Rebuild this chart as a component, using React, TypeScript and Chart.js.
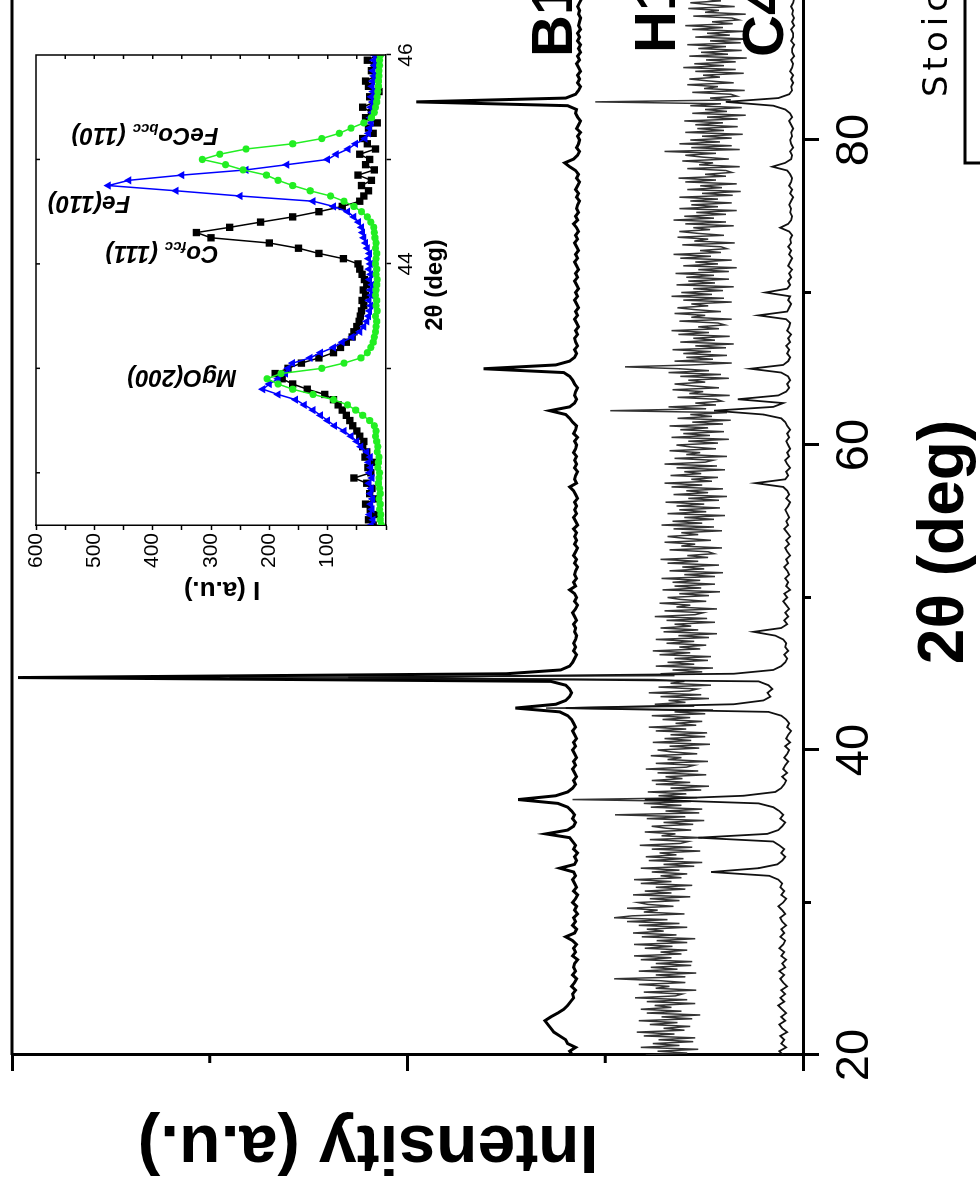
import React, { useEffect, useRef } from "react";
import { Chart, registerables } from "chart.js";
Chart.register(...registerables);

const FONT = "'Liberation Sans', Arial, sans-serif";

// ---------- main pattern ----------
const TWO_THETA_START = 20;
const TWO_THETA_STEP = 0.25; // B1, C4
const H1_STEP = 0.125; // H1 (noisier, sampled more densely)

const B1 = [
  233, 236, 230, 238, 240, 246, 252, 255, 258, 261, 255, 248, 242, 238, 235, 232,
  233, 230, 234, 231, 229, 233, 230, 232, 231, 228, 233, 230, 232, 229, 233, 240,
  231, 229, 233, 230, 232, 228, 231, 229, 233, 230, 228, 232, 229, 231, 233, 230,
  232, 246, 231, 229, 231, 228, 232, 230, 233, 236, 260, 238, 232, 230, 233, 231,
  234, 238, 248, 288, 250, 238, 233, 230, 232, 229, 231, 233, 230, 232, 229, 231,
  233, 230, 232, 229, 231, 233, 230, 232, 234, 238, 246, 291, 250, 240, 236, 234,
  236, 240, 255, 794, 300, 245, 236, 233, 231, 229, 232, 230, 232, 230, 229, 231,
  230, 232, 229, 231, 233, 230, 228, 231, 229, 231, 236, 230, 232, 229, 231, 230,
  228, 231, 229, 232, 230, 228, 231, 229, 231, 229, 232, 228, 230, 232, 229, 231,
  229, 231, 228, 230, 232, 236, 229, 231, 230, 228, 231, 229, 231, 229, 232, 230,
  229, 231, 228, 232, 230, 229, 233, 236, 240, 256, 236, 231, 229, 231, 230, 228,
  231, 233, 236, 242, 323, 250, 236, 231, 229, 231, 228, 230, 231, 228, 230, 227,
  229, 231, 228, 230, 227, 229, 231, 228, 230, 227, 229, 231, 228, 230, 227, 229,
  231, 228, 230, 227, 229, 231, 228, 230, 227, 229, 232, 228, 230, 227, 229, 228,
  226, 229, 227, 230, 228, 226, 229, 227, 230, 236, 241, 232, 228, 226, 229, 227,
  226, 228, 225, 229, 227, 225, 228, 230, 229, 238, 391, 240, 230, 227, 225, 228,
  226, 228, 225, 227, 229, 226, 228, 225, 227, 225, 228, 226, 228, 225, 227, 226,
  225, 227, 226, 228, 226, 224, 227, 225, 226,
];

const H1 = [
  159, 117, 147, 106, 164, 125, 152, 111, 146, 109, 161, 130, 168, 120, 141, 114,
  155, 127, 166, 112, 143, 104, 158, 123, 164, 133, 150, 109, 158, 117, 170, 129,
  122, 161, 108, 149, 135, 166, 119, 145, 191, 119, 149, 108, 166, 127, 154, 113,
  149, 112, 164, 133, 171, 123, 144, 117, 160, 132, 171, 117, 148, 109, 163, 128,
  172, 141, 158, 117, 166, 125, 178, 137, 191, 173, 120, 161, 147, 178, 131, 157,
  167, 125, 155, 114, 172, 133, 160, 119, 149, 112, 164, 133, 171, 123, 144, 117,
  153, 125, 164, 110, 141, 102, 156, 121, 159, 128, 145, 104, 153, 112, 165, 124,
  116, 155, 102, 143, 129, 160, 113, 139, 153, 111, 141, 100, 158, 119, 190, 105,
  139, 102, 154, 123, 161, 113, 233, 107, 146, 118, 157, 103, 134, 95, 149, 114,
  153, 122, 139, 98, 147, 106, 159, 118, 110, 149, 96, 137, 123, 154, 107, 133,
  147, 105, 135, 94, 152, 113, 140, 99, 134, 97, 149, 118, 156, 108, 129, 102,
  142, 114, 153, 99, 130, 91, 260, 110, 150, 119, 136, 95, 144, 103, 156, 115,
  107, 146, 93, 134, 120, 151, 580, 130, 144, 102, 132, 91, 149, 110, 137, 96,
  130, 93, 145, 114, 152, 104, 125, 98, 138, 110, 149, 95, 126, 87, 141, 106,
  144, 113, 130, 89, 138, 97, 150, 109, 101, 140, 87, 128, 114, 145, 98, 124,
  137, 95, 125, 84, 142, 103, 130, 89, 132, 104, 143, 89, 120, 81, 135, 100,
  122, 85, 137, 106, 144, 96, 117, 90, 96, 135, 82, 123, 109, 140, 93, 119,
  137, 106, 123, 82, 131, 90, 143, 102, 132, 90, 120, 79, 137, 98, 125, 84,
  128, 100, 139, 85, 116, 77, 131, 96, 118, 81, 133, 102, 140, 92, 113, 86,
  134, 103, 120, 79, 128, 87, 140, 99, 91, 130, 77, 118, 104, 135, 88, 114,
  128, 86, 116, 75, 133, 94, 121, 80, 124, 96, 135, 81, 112, 73, 127, 92,
  114, 77, 195, 98, 136, 88, 109, 82, 88, 127, 74, 115, 101, 132, 85, 111,
  130, 99, 116, 75, 124, 83, 136, 95, 125, 180, 113, 72, 130, 91, 118, 77,
  121, 93, 132, 78, 109, 70, 124, 89, 111, 74, 126, 95, 133, 85, 106, 79,
  86, 125, 72, 113, 99, 130, 83, 109, 127, 96, 113, 72, 121, 80, 133, 92,
  123, 81, 111, 70, 128, 89, 116, 75, 118, 90, 129, 75, 106, 67, 121, 86,
  109, 72, 124, 93, 131, 83, 104, 77, 83, 122, 69, 110, 96, 127, 80, 106,
  125, 94, 111, 70, 119, 78, 131, 90, 120, 78, 108, 67, 125, 86, 113, 72,
  114, 86, 125, 71, 102, 63, 117, 82, 104, 67, 119, 88, 126, 78, 99, 72,
  78, 117, 64, 105, 91, 122, 75, 101, 119, 88, 140, 64, 113, 72, 125, 84,
  114, 72, 102, 61, 119, 80, 107, 66, 109, 81, 120, 66, 97, 58, 112, 77,
  99, 62, 114, 83, 210, 73, 94, 67, 73, 112, 59, 100, 86, 117, 70, 96,
  115, 84, 101, 60, 109, 68, 121, 80, 110, 68, 98, 57, 115, 76, 103, 62,
  106, 78, 117, 63, 94, 55, 109, 74, 97, 60, 112, 81, 119, 71, 92, 65,
  72, 111, 58, 99, 85, 116, 69, 95, 114, 83, 100, 59, 108, 67, 120, 79,
  90,
];

const C4 = [
  20, 24, 17, 22, 19, 23, 16, 21, 24, 18, 22, 17, 21, 25, 19, 23,
  18, 22, 16, 20, 23, 19, 24, 18, 21, 17, 22, 19, 24, 20, 18, 23,
  19, 22, 17, 21, 23, 18, 21, 25, 20, 17, 22, 19, 23, 21, 25, 34,
  93, 45, 26, 21, 18, 22, 19, 24, 30, 106, 36, 25, 21, 18, 23, 20,
  24, 30, 45, 160, 60, 28, 22, 19, 17, 21, 16, 20, 18, 15, 19, 16,
  14, 18, 13, 17, 15, 12, 16, 14, 17, 22, 35, 240, 70, 40, 33, 36,
  31, 35, 45, 460, 70, 30, 22, 18, 16, 19, 15, 18, 17, 20, 28, 50,
  22, 16, 19, 15, 18, 14, 17, 20, 16, 19, 13, 17, 15, 18, 14, 16,
  19, 15, 17, 13, 16, 18, 14, 17, 13, 16, 19, 15, 17, 14, 16, 18,
  15, 13, 17, 14, 16, 20, 48, 18, 15, 17, 13, 16, 18, 14, 16, 13,
  15, 17, 14, 16, 13, 16, 18, 22, 40, 90, 30, 20, 66, 25, 17, 14,
  16, 13, 15, 22, 53, 20, 15, 13, 16, 14, 17, 13, 15, 12, 16, 14,
  13, 17, 45, 16, 14, 12, 15, 13, 38, 16, 13, 15, 12, 14, 11, 15,
  13, 11, 14, 12, 15, 12, 13, 11, 14, 23, 15, 12, 11, 13, 12, 14,
  12, 10, 13, 11, 14, 12, 11, 13, 16, 31, 18, 12, 11, 13, 10, 12,
  13, 11, 12, 10, 12, 14, 11, 13, 18, 30, 78, 25, 14, 11, 12, 10,
  12, 10, 13, 11, 10, 12, 9, 11, 11, 9, 12, 10, 10, 12, 9, 11,
  9, 11, 10, 12, 10, 9, 11, 10, 10,
];

const SAMPLE_LABELS = ["B1", "H1", "C4"];
const X_TICK_LABELS = [20, 40, 60, 80];
const X_TITLE = "2θ (deg)";
const Y_TITLE = "Intensity (a.u.)";
const SIDE_TEXT = "Stoichiometric";

// ---------- inset: 2θ grid 41.5..46, step 0.05 ----------
const INSET_START = 41.5;
const INSET_STEP = 0.05;

const CO_FCC = [
  22, 30, 18, 27, 35, 20, 28, 24, 33, 55,
  26, 31, 23, 36, 33, 40, 38, 45, 50, 57,
  62, 68, 75, 82, 90, 105, 135, 160, 178, 190,
  168, 145, 115, 90, 78, 68, 58, 55, 50, 46,
  44, 42, 38, 41, 35, 39, 33, 37, 41, 45,
  48, 73, 115, 150, 200, 300, 325, 268, 215, 160,
  115, 75, 45, 38, 30, 42, 25, 48, 20, 35,
  28, 45, 18, 32, 40, 22, 30, 15, 35, 25,
  40, 20, 28, 12, 30, 35, 18, 25, 20, 32,
  15,
];

const FE = [
  25, 22, 28, 24, 26, 23, 27, 25, 29, 24,
  28, 26, 30, 27, 33, 43, 50, 60, 72, 88,
  100, 112, 125, 140, 155, 185, 211, 200, 185, 172,
  168, 160, 130, 112, 90, 75, 58, 45, 38, 33,
  30, 28, 26, 29, 25, 27, 24, 28, 26, 29,
  27, 30, 28, 32, 35, 38, 40, 42, 47, 55,
  66, 90, 125, 250, 360, 476, 441, 350, 240, 170,
  100, 85, 65, 52, 36, 30, 28, 25, 27, 24,
  26, 23, 25, 22, 24, 23, 21, 22, 20, 21,
  20,
];

const FECO_BCC = [
  8, 10, 9, 11, 10, 12, 10, 11, 13, 12,
  11, 14, 13, 12, 15, 14, 16, 18, 17, 20,
  28, 40, 52, 66, 90, 125, 160, 185, 204, 180,
  110, 72, 43, 32, 26, 22, 20, 18, 17, 16,
  18, 15, 17, 16, 18, 17, 16, 15, 17, 16,
  18, 17, 16, 18, 17, 19, 20, 21, 26, 32,
  42, 55, 72, 95, 130, 160, 185, 205, 245, 275,
  315, 285, 240, 160, 110, 80, 60, 38, 25, 20,
  18, 16, 15, 14, 13, 13, 12, 12, 11, 11,
  10,
];

const INSET_X_TICK_LABELS = [42, 44, 46];
const INSET_X_TITLE = "2θ (deg)";
const INSET_Y_TITLE = "I (a.u.)";

// canvas in the chart's own (unrotated) orientation
const W = 1260;
const H = 980;

function toPoints(start: number, step: number, values: number[]) {
  return values.map((y, i) => ({ x: +(start + i * step).toFixed(3), y }));
}

type Part = { t: string; sub?: boolean };

function drawRotatedRich(ctx: CanvasRenderingContext2D, parts: Part[], cx: number, cy: number, size: number) {
  const main = `italic bold ${size}px ${FONT}`;
  const sub = `italic bold ${Math.round(size * 0.62)}px ${FONT}`;
  let total = 0;
  const widths = parts.map((p) => {
    ctx.font = p.sub ? sub : main;
    const w = ctx.measureText(p.t).width;
    total += w;
    return w;
  });
  ctx.save();
  ctx.translate(cx, cy);
  ctx.rotate(-Math.PI / 2);
  ctx.textBaseline = "middle";
  ctx.textAlign = "left";
  let xPos = -total / 2;
  parts.forEach((p, i) => {
    ctx.font = p.sub ? sub : main;
    ctx.fillText(p.t, xPos, p.sub ? size * 0.28 : 0);
    xPos += widths[i];
  });
  ctx.restore();
}

const mainDecor = {
  id: "mainDecor",
  afterDraw(chart: any) {
    const { ctx, chartArea: a, scales } = chart;
    const x = scales.x;
    const y = scales.y;
    ctx.save();
    ctx.strokeStyle = "#000";
    ctx.fillStyle = "#000";
    ctx.lineWidth = 3;
    ctx.beginPath();
    ctx.moveTo(a.left, a.top);
    ctx.lineTo(a.right, a.top);
    ctx.lineTo(a.right, a.bottom);
    ctx.stroke();
    ctx.beginPath();
    [30, 50, 70].forEach((v) => {
      const px = x.getPixelForValue(v);
      ctx.moveTo(px, a.bottom);
      ctx.lineTo(px, a.bottom + 8);
    });
    [200, 600].forEach((v) => {
      const py = y.getPixelForValue(v);
      ctx.moveTo(a.left, py);
      ctx.lineTo(a.left - 8, py);
    });
    ctx.stroke();

    ctx.font = `bold 64px ${FONT}`;
    ctx.textAlign = "center";
    ctx.textBaseline = "middle";
    ctx.fillText(X_TITLE, 652, 945);
    ctx.save();
    ctx.translate(49, 368);
    ctx.rotate(-Math.PI / 2);
    ctx.font = `bold 68px ${FONT}`;
    ctx.fillText(Y_TITLE, 0, 0);
    ctx.restore();

    ctx.font = `bold 58px ${FONT}`;
    ctx.textAlign = "left";
    ctx.textBaseline = "alphabetic";
    const labelPos = [
      [1137, 572],
      [1141, 675],
      [1137, 783],
    ];
    SAMPLE_LABELS.forEach((t, i) => ctx.fillText(t, labelPos[i][0], labelPos[i][1]));

    ctx.font = `34px 'DejaVu Sans', sans-serif`;
    (ctx as any).letterSpacing = "5px";
    ctx.fillText(SIDE_TEXT, 1097, 947);
    (ctx as any).letterSpacing = "0px";
    ctx.lineWidth = 3;
    ctx.strokeRect(1031, 965, 400, 200);
    ctx.restore();
  },
};

const insetDecor = {
  id: "insetDecor",
  afterDraw(chart: any) {
    const { ctx, chartArea: a, scales } = chart;
    const x = scales.x;
    const y = scales.y;
    ctx.save();
    ctx.strokeStyle = "#000";
    ctx.fillStyle = "#000";
    ctx.lineWidth = 1.5;
    ctx.beginPath();
    ctx.moveTo(a.left, a.top);
    ctx.lineTo(a.right, a.top);
    ctx.lineTo(a.right, a.bottom);
    ctx.stroke();
    ctx.beginPath();
    [42, 43, 44, 45].forEach((v) => {
      const px = x.getPixelForValue(v);
      ctx.moveTo(px, a.top);
      ctx.lineTo(px, a.top + 4);
    });
    for (let v = 50; v < 600; v += 50) {
      const py = y.getPixelForValue(v);
      ctx.moveTo(a.right, py);
      ctx.lineTo(a.right - 4, py);
    }
    ctx.stroke();

    ctx.textAlign = "center";
    ctx.textBaseline = "middle";
    ctx.font = `bold 24px ${FONT}`;
    ctx.fillText(INSET_X_TITLE, 349, 419);
    ctx.save();
    ctx.translate(45, 206);
    ctx.rotate(-Math.PI / 2);
    ctx.font = `bold 26px ${FONT}`;
    ctx.fillText(INSET_Y_TITLE, 0, 0);
    ctx.restore();

    drawRotatedRich(ctx, [{ t: "MgO(200)" }], 257, 166, 24);
    drawRotatedRich(ctx, [{ t: "Co" }, { t: "fcc", sub: true }, { t: " (111)" }], 381, 146, 24);
    drawRotatedRich(ctx, [{ t: "Fe(110)" }], 431, 73, 24);
    drawRotatedRich(ctx, [{ t: "FeCo" }, { t: "bcc", sub: true }, { t: " (110)" }], 499, 129, 24);
    ctx.restore();
  },
};

export default function App() {
  const mainRef = useRef<HTMLCanvasElement>(null);
  const insetRef = useRef<HTMLCanvasElement>(null);

  useEffect(() => {
    const main = new Chart(mainRef.current as HTMLCanvasElement, {
      type: "line",
      data: {
        datasets: [
          { label: "B1", data: toPoints(TWO_THETA_START, TWO_THETA_STEP, B1), borderColor: "#000", borderWidth: 3, pointRadius: 0 },
          { label: "C4", data: toPoints(TWO_THETA_START, TWO_THETA_STEP, C4), borderColor: "#111", borderWidth: 1.8, pointRadius: 0 },
          { label: "H1", data: toPoints(TWO_THETA_START, H1_STEP, H1), borderColor: "#333333", borderWidth: 1.5, pointRadius: 0 },
        ],
      },
      options: {
        animation: false,
        responsive: false,
        devicePixelRatio: 1,
        events: [],
        layout: { padding: { top: 12, right: 53.5, left: 0, bottom: 0 } },
        plugins: { legend: { display: false }, tooltip: { enabled: false } },
        elements: { line: { tension: 0 } },
        scales: {
          x: {
            type: "linear",
            min: 20,
            max: 90,
            afterFit: (s: any) => {
              s.height = 177;
            },
            border: { display: true, color: "#000", width: 3 },
            grid: {
              drawOnChartArea: false,
              drawTicks: true,
              tickLength: 16,
              tickWidth: 3,
              tickColor: (c: any) => (c.tick && c.tick.value % 20 === 0 && c.tick.value <= 80 ? "#000" : "rgba(0,0,0,0)"),
            },
            ticks: {
              stepSize: 10,
              autoSkip: false,
              maxRotation: 0,
              padding: 8,
              color: "#000",
              font: { family: FONT, size: 47 },
              callback: (v: any) => (X_TICK_LABELS.includes(Number(v)) ? String(v) : ""),
            },
          },
          y: {
            type: "linear",
            min: 0,
            max: 800,
            afterFit: (s: any) => {
              s.width = 139;
            },
            border: { display: true, color: "#000", width: 3 },
            grid: {
              drawOnChartArea: false,
              drawTicks: true,
              tickLength: 16,
              tickWidth: 3,
              tickColor: (c: any) => (c.tick && c.tick.value % 400 === 0 ? "#000" : "rgba(0,0,0,0)"),
            },
            ticks: { stepSize: 200, callback: () => "", font: { family: FONT, size: 10 } },
          },
        },
      },
      plugins: [mainDecor],
    } as any);

    const inset = new Chart(insetRef.current as HTMLCanvasElement, {
      type: "line",
      data: {
        datasets: [
          {
            label: "FeCo bcc",
            data: toPoints(INSET_START, INSET_STEP, FECO_BCC),
            borderColor: "#22ee22",
            backgroundColor: "#22ee22",
            borderWidth: 1.5,
            pointStyle: "circle",
            pointRadius: 3.6,
            pointBorderWidth: 0,
            order: 1,
          },
          {
            label: "Fe",
            data: toPoints(INSET_START, INSET_STEP, FE),
            borderColor: "#0000ff",
            backgroundColor: "#0000ff",
            borderWidth: 1.5,
            pointStyle: "triangle",
            pointRadius: 4.8,
            pointBorderWidth: 0,
            order: 2,
          },
          {
            label: "Co fcc",
            data: toPoints(INSET_START, INSET_STEP, CO_FCC),
            borderColor: "#000",
            backgroundColor: "#000",
            borderWidth: 1.5,
            pointStyle: "rect",
            pointRadius: 5.2,
            pointBorderWidth: 0,
            order: 3,
          },
        ],
      },
      options: {
        animation: false,
        responsive: false,
        devicePixelRatio: 1,
        events: [],
        layout: { padding: { top: 20, right: 41, left: 0, bottom: 0 } },
        plugins: { legend: { display: false }, tooltip: { enabled: false } },
        elements: { line: { tension: 0 } },
        scales: {
          x: {
            type: "linear",
            min: 41.5,
            max: 46,
            afterFit: (s: any) => {
              s.height = 80;
            },
            border: { display: true, color: "#000", width: 1.5 },
            grid: {
              drawOnChartArea: false,
              tickLength: 5,
              tickWidth: 1.5,
              tickColor: (c: any) => (c.tick && Number.isInteger(c.tick.value) ? "#000" : "rgba(0,0,0,0)"),
            },
            ticks: {
              stepSize: 1,
              autoSkip: false,
              maxRotation: 0,
              padding: 3,
              color: "#000",
              font: { family: FONT, size: 21 },
              callback: (v: any) => (INSET_X_TICK_LABELS.includes(Number(v)) ? String(v) : ""),
            },
          },
          y: {
            type: "linear",
            min: 0,
            max: 600,
            afterFit: (s: any) => {
              s.width = 109;
            },
            border: { display: true, color: "#000", width: 1.5 },
            grid: { drawOnChartArea: false, tickLength: 5, tickWidth: 1.5, tickColor: "#000" },
            ticks: {
              stepSize: 50,
              autoSkip: false,
              padding: 3,
              color: "#000",
              font: { family: FONT, size: 21 },
              callback: (v: any) => (Number(v) > 0 && Number(v) % 100 === 0 ? String(v) : ""),
            },
          },
        },
      },
      plugins: [insetDecor],
    } as any);

    return () => {
      main.destroy();
      inset.destroy();
    };
  }, []);

  return (
    <div style={{ position: "fixed", left: 0, top: 0, width: 980, height: 1194, overflow: "hidden", background: "#fff" }}>
      <div
        style={{
          position: "absolute",
          left: 0,
          top: 0,
          width: W,
          height: H,
          transformOrigin: "0 0",
          transform: "translate(0px, 1194px) rotate(-90deg)",
        }}
      >
        <canvas ref={mainRef} width={W} height={H} style={{ position: "absolute", left: 0, top: 0, width: W, height: H }} />
        <canvas ref={insetRef} width={620} height={450} style={{ position: "absolute", left: 560, top: 16, width: 620, height: 450 }} />
      </div>
    </div>
  );
}
